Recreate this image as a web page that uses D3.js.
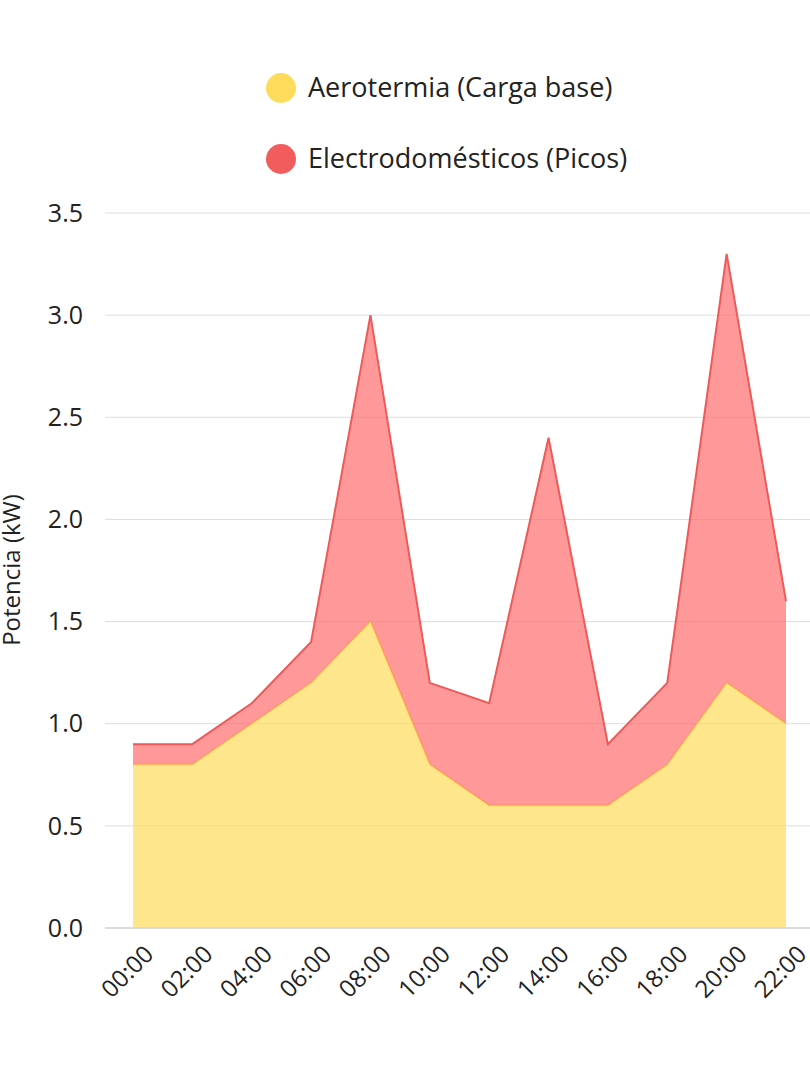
<!DOCTYPE html>
<html><head><meta charset="utf-8">
<script src="https://cdn.jsdelivr.net/npm/d3@7"></script>
<style>body{margin:0;background:#fff}svg{font-family:"Open Sans",sans-serif}</style>
</head><body><svg id="c" width="810" height="1080"></svg>
<script>
const hours=["00:00","02:00","04:00","06:00","08:00","10:00","12:00","14:00","16:00","18:00","20:00","22:00"];
const aerotermia=[0.8,0.8,1.0,1.2,1.5,0.8,0.6,0.6,0.6,0.8,1.2,1.0];
const electro=[0.1,0.1,0.1,0.2,1.5,0.4,0.5,1.8,0.3,0.4,2.1,0.6];
const yTicks=[0,0.5,1,1.5,2,2.5,3,3.5];
const seriesNames=["Aerotermia (Carga base)","Electrodomésticos (Picos)"];

const svg=d3.select("#c");
const x=d3.scalePoint().domain(hours).range([133,786]);
const y=d3.scaleLinear().domain([0,3.5]).range([928,213]);
const data=hours.map((h,i)=>({h,a:aerotermia[i],e:electro[i]}));
const stack=d3.stack().keys(["a","e"])(data);
const fills=["rgba(253,220,92,0.7)","rgba(255,110,110,0.7)"];
const strokes=["#FDDC5C","#EE5A5A"];
const dots=["#FDDC5C","#F25C5C"];

svg.append("g").selectAll("line").data(yTicks.slice(1)).join("line")
 .attr("x1",105).attr("x2",810).attr("y1",d=>y(d)).attr("y2",d=>y(d))
 .attr("stroke","#ddd");
svg.append("line").attr("x1",105).attr("x2",810).attr("y1",y(0)).attr("y2",y(0)).attr("stroke","#bbb");
svg.append("g").selectAll("text").data(yTicks).join("text")
 .attr("x",83).attr("y",d=>y(d)).attr("dy","0.35em").attr("text-anchor","end")
 .attr("font-size",25).attr("fill","#222").text(d=>d.toFixed(1));

const area=d3.area().x(d=>x(d.data.h)).y0(d=>y(d[0])).y1(d=>y(d[1]));
const line=d3.line().x(d=>x(d.data.h)).y(d=>y(d[1]));
stack.forEach((s,i)=>{
 svg.append("path").datum(s).attr("d",area).attr("fill",fills[i]);
 svg.append("path").datum(s).attr("d",line).attr("fill","none").attr("stroke",strokes[i]).attr("stroke-width",2);
});

svg.append("g").selectAll("text").data(hours).join("text")
 .attr("transform",d=>`translate(${x(d)+10},${944}) rotate(-45)`)
 .attr("text-anchor","end").attr("dy","0.7em").attr("font-size",24).attr("fill","#222").text(d=>d);

svg.append("text").attr("transform","translate(20,570) rotate(-90)").attr("text-anchor","middle")
 .attr("font-size",24).attr("fill","#222").text("Potencia (kW)");

seriesNames.forEach((n,i)=>{
 const yy=88+i*71;
 svg.append("circle").attr("cx",281).attr("cy",yy).attr("r",15).attr("fill",dots[i]);
 svg.append("text").attr("x",308).attr("y",yy).attr("dy","0.35em").attr("font-size",27).attr("fill","#222").text(n);
});
</script></body></html>
